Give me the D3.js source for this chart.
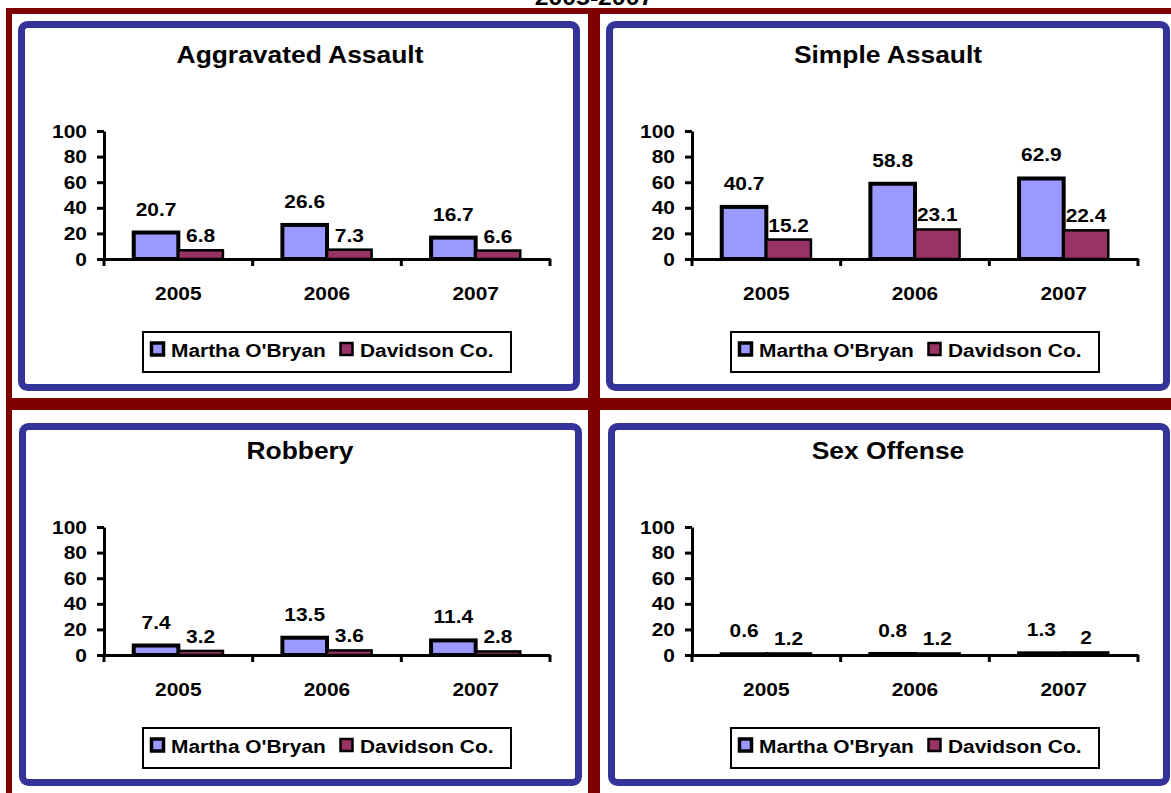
<!DOCTYPE html>
<html>
<head>
<meta charset="utf-8">
<script src="https://cdn.jsdelivr.net/npm/d3@7/dist/d3.min.js"></script>
<style>
  html, body { margin: 0; padding: 0; background: #ffffff; }
  svg { display: block; }
</style>
</head>
<body>
<svg id="chart" width="1171" height="793"></svg>
<script>
// ---------- data ----------
const years = ["2005", "2006", "2007"];
const seriesNames = ["Martha O'Bryan", "Davidson Co."];
const panelTitles = ["Aggravated Assault", "Simple Assault", "Robbery", "Sex Offense"];
const yTicks = [0, 20, 40, 60, 80, 100];
const pageTitle = "2005-2007";

const marthaAggravated = [20.7, 26.6, 16.7];
const davidsonAggravated = [6.8, 7.3, 6.6];
const marthaSimple = [40.7, 58.8, 62.9];
const davidsonSimple = [15.2, 23.1, 22.4];
const marthaRobbery = [7.4, 13.5, 11.4];
const davidsonRobbery = [3.2, 3.6, 2.8];
const marthaSex = [0.6, 0.8, 1.3];
const davidsonSex = [1.2, 1.2, 2];

// ---------- styles ----------
const FONT = "'Liberation Sans', Arial, Helvetica, sans-serif";
const STRETCH = 1.1;
const RED = "#800000";
const BLUE = "#333399";
const seriesFill = ["#9999FF", "#993366"];
const seriesStroke = [4, 2.5];

const svg = d3.select("#chart");

function txt(g, x, y, s, size, anchor) {
  return g.append("text")
    .attr("transform", `translate(${x},${y}) scale(${STRETCH},1)`)
    .attr("text-anchor", anchor)
    .style("font", `bold ${size}px ${FONT}`)
    .attr("fill", "#000")
    .text(s);
}

// page title (clipped at top)
txt(svg, 594, 5, pageTitle, 22.5, "middle");

// red grid lines
svg.append("rect").attr("x", 6).attr("y", 8).attr("width", 1165).attr("height", 6).attr("fill", RED);
svg.append("rect").attr("x", 6).attr("y", 8).attr("width", 6).attr("height", 785).attr("fill", RED);
svg.append("rect").attr("x", 588).attr("y", 8).attr("width", 12).attr("height", 785).attr("fill", RED);
svg.append("rect").attr("x", 6).attr("y", 398).attr("width", 1165).attr("height", 12).attr("fill", RED);

const panels = [
  { title: panelTitles[0], m: marthaAggravated, d: davidsonAggravated, ox: 0,   oy: 0,   frame: [18, 21, 580, 391] },
  { title: panelTitles[1], m: marthaSimple,     d: davidsonSimple,     ox: 588, oy: 0,   frame: [606, 21, 1170, 391] },
  { title: panelTitles[2], m: marthaRobbery,    d: davidsonRobbery,    ox: 0,   oy: 396, frame: [19, 423, 582, 786] },
  { title: panelTitles[3], m: marthaSex,        d: davidsonSex,        ox: 588, oy: 396, frame: [608, 423, 1170, 786] }
];

const x = d3.scaleBand().domain(years).range([104, 550]).paddingInner(0).paddingOuter(0);
const xs = d3.scaleBand().domain([0, 1]).range([x.bandwidth() * 0.2, x.bandwidth() * 0.8]).padding(0);
const y = d3.scaleLinear().domain([0, 100]).range([259, 131]);
const labelOffset = [17, 8];

panels.forEach(p => {
  const [fx0, fy0, fx1, fy1] = p.frame;
  svg.append("rect")
    .attr("x", fx0 + 3.5).attr("y", fy0 + 3.5)
    .attr("width", fx1 - fx0 - 7).attr("height", fy1 - fy0 - 7)
    .attr("rx", 6).attr("ry", 6)
    .attr("fill", "#fff").attr("stroke", BLUE).attr("stroke-width", 7);

  const g = svg.append("g").attr("transform", `translate(${p.ox},${p.oy})`);

  // title
  txt(g, 300, 63, p.title, 24, "middle");

  // bars
  const rows = years.map((yr, i) => ({ yr, vals: [p.m[i], p.d[i]] }));
  const groups = g.selectAll("g.cat").data(rows).join("g").attr("class", "cat")
    .attr("transform", r => `translate(${x(r.yr)},0)`);
  groups.selectAll("rect").data(r => r.vals.map((v, k) => ({ v, k }))).join("rect")
    .attr("x", d => xs(d.k)).attr("width", xs.bandwidth())
    .attr("y", d => y(d.v)).attr("height", d => y(0) - y(d.v))
    .attr("fill", d => seriesFill[d.k])
    .attr("stroke", "#000").attr("stroke-width", d => seriesStroke[d.k]);

  // y axis
  const ya = g.append("g").attr("transform", "translate(104,0)")
    .call(d3.axisLeft(y).tickValues(yTicks).tickSize(7).tickSizeOuter(0).tickPadding(8.5));
  ya.select(".domain").attr("stroke", "#000").attr("stroke-width", 3);
  ya.selectAll(".tick line").attr("stroke", "#000").attr("stroke-width", 3);
  ya.selectAll(".tick text")
    .attr("transform", `scale(${STRETCH},1)`)
    .style("font", `bold 19px ${FONT}`).attr("fill", "#000");

  // x axis
  const xa = g.append("g").attr("transform", `translate(0,${y(0)})`)
    .call(d3.axisBottom(x).tickSize(0).tickSizeOuter(0).tickPadding(27.5));
  xa.select(".domain").attr("stroke", "#000").attr("stroke-width", 3);
  xa.selectAll(".tick text")
    .attr("transform", `scale(${STRETCH},1)`)
    .style("font", `bold 19px ${FONT}`).attr("fill", "#000");
  const bounds = years.map(yr => x(yr)).concat([x(years[years.length - 1]) + x.bandwidth()]);
  xa.selectAll("line.bt").data(bounds).join("line").attr("class", "bt")
    .attr("x1", d => d).attr("x2", d => d).attr("y1", 0).attr("y2", 7)
    .attr("stroke", "#000").attr("stroke-width", 3);

  // the x tick text scaled around the tick origin: re-center
  xa.selectAll(".tick text").attr("x", 0);

  // data labels (drawn after axes)
  rows.forEach(r => {
    r.vals.forEach((v, k) => {
      const cx = x(r.yr) + xs(k) + xs.bandwidth() / 2;
      txt(g, cx, y(v) - labelOffset[k], String(v), 19, "middle");
    });
  });

  // legend
  const lg = g.append("g");
  lg.append("rect").attr("x", 143).attr("y", 332).attr("width", 368).attr("height", 40)
    .attr("fill", "#fff").attr("stroke", "#000").attr("stroke-width", 2);
  const legendX = [150, 339];
  seriesNames.forEach((s, k) => {
    lg.append("rect").attr("x", legendX[k] + 1.5).attr("y", 343).attr("width", 12).attr("height", 12)
      .attr("fill", seriesFill[k]).attr("stroke", "#000").attr("stroke-width", k === 0 ? 3.5 : 2.5);
    txt(lg, legendX[k] + 21, 357, s, 19, "start");
  });
});
</script>
</body>
</html>
